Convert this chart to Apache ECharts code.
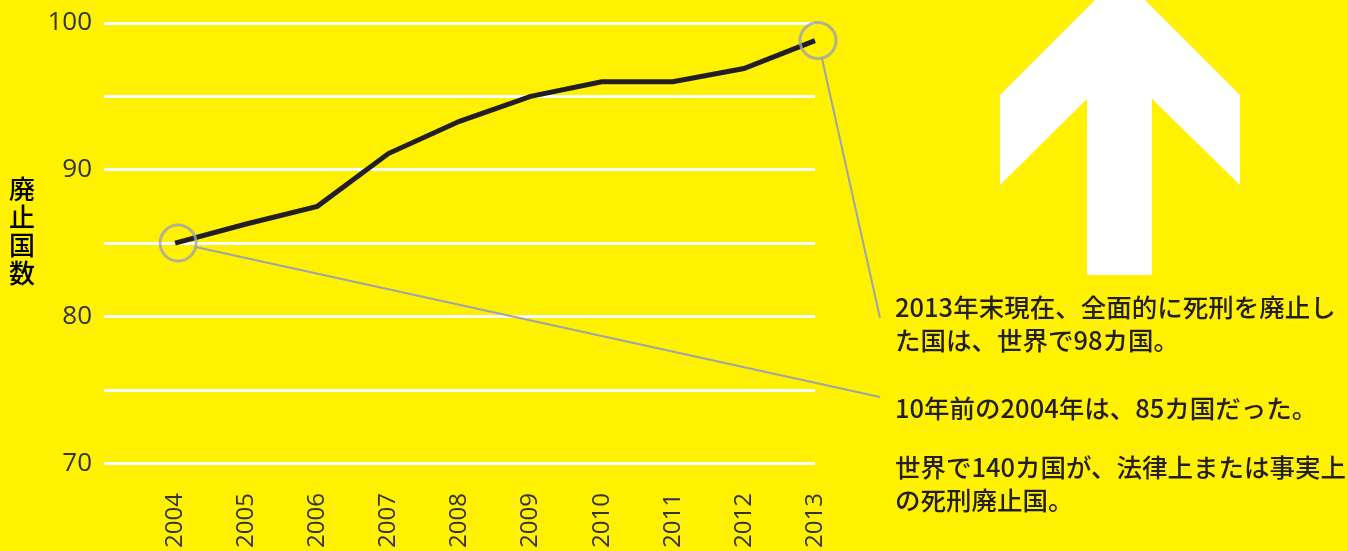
<!DOCTYPE html>
<html>
<head>
<meta charset="utf-8">
<script src="https://cdn.jsdelivr.net/npm/echarts@6/dist/echarts.min.js"></script>
<style>
  html, body { margin: 0; padding: 0; background: #fff100; }
  #chart { width: 1347px; height: 551px; }
</style>
</head>
<body>
<div id="chart"></div>
<script>
// 死刑廃止国数の推移
const years = [2004, 2005, 2006, 2007, 2008, 2009, 2010, 2011, 2012, 2013];
const abolished = [85, 86.3, 87.5, 91.1, 93.3, 95, 96, 96, 96.9, 98.8];
const yTicks = [70, 80, 90, 100];
const yName = "廃止国数";
const notes = [
  "2013年末現在、全面的に死刑を廃止し\nた国は、世界で98カ国。",
  "10年前の2004年は、85カ国だった。",
  "世界で140カ国が、法律上または事実上\nの死刑廃止国。"
];

const ink = "#231f20";
const grey = "#9fa4ad";
const jp = "'Noto Sans CJK JP', 'Noto Sans', sans-serif";

var chart = echarts.init(document.getElementById("chart"));

chart.setOption({
  backgroundColor: "#fff100",
  animation: false,
  grid: { left: 104, right: 532, top: 23, bottom: 87.5 },
  xAxis: {
    type: "value",
    min: 2003,
    max: 2013,
    interval: 1,
    axisLine: { show: false },
    axisTick: { show: false },
    splitLine: { show: false },
    axisLabel: {
      rotate: 90,
      margin: 30,
      fontSize: 24,
      fontFamily: "'Open Sans', sans-serif",
      color: "#333333",
      formatter: v => (years.indexOf(v) >= 0 ? String(v) : "")
    }
  },
  yAxis: {
    type: "value",
    min: 70,
    max: 100,
    interval: 5,
    axisLine: { show: false },
    axisTick: { show: false },
    splitLine: { lineStyle: { color: "#ffffff", width: 3 } },
    axisLabel: {
      margin: 12,
      fontSize: 26,
      fontFamily: "'Open Sans', sans-serif",
      color: "#333333",
      formatter: v => (yTicks.indexOf(v) >= 0 ? String(v) : "")
    }
  },
  series: [
    {
      type: "line",
      data: years.map((y, i) => [y, abolished[i]]),
      symbol: "none",
      lineStyle: { color: ink, width: 5, join: "miter" }
    },
    {
      type: "scatter",
      data: [
        [years[0], abolished[0]],
        [years[years.length - 1], abolished[abolished.length - 1]]
      ],
      symbol: "circle",
      symbolSize: 36,
      symbolOffset: [3, 0],
      itemStyle: { color: "rgba(0,0,0,0)", borderColor: grey, borderWidth: 3 },
      z: 3
    }
  ]
});

// leader lines from the circles to the notes
function leader(pt, end) {
  const cx = pt[0] + 3, cy = pt[1];
  const dx = end[0] - cx, dy = end[1] - cy;
  const len = Math.sqrt(dx * dx + dy * dy);
  return {
    type: "line",
    shape: { x1: cx + dx / len * 18, y1: cy + dy / len * 18, x2: end[0], y2: end[1] },
    style: { stroke: grey, lineWidth: 2 },
    z: 10
  };
}
const pFirst = chart.convertToPixel({ gridIndex: 0 }, [years[0], abolished[0]]);
const pLast = chart.convertToPixel({ gridIndex: 0 },
  [years[years.length - 1], abolished[abolished.length - 1]]);

function note(text, y) {
  return {
    type: "text",
    x: 895,
    y: y,
    style: {
      text: text,
      fill: ink,
      fontSize: 25.5,
      fontWeight: 500,
      fontFamily: jp,
      lineHeight: 33,
      verticalAlign: "top"
    },
    z: 10
  };
}

chart.setOption({
  graphic: [
    {
      type: "polygon",
      shape: {
        points: [
          [1120, -25], [1240, 95], [1240, 185], [1152, 99], [1152, 275],
          [1087, 275], [1087, 99], [1000, 185], [1000, 95]
        ]
      },
      style: { fill: "#ffffff" },
      z: 1
    },
    {
      type: "text",
      x: 22,
      y: 175,
      style: {
        text: yName.split("").join("\n"),
        fill: "#000000",
        fontSize: 26,
        fontWeight: 500,
        fontFamily: jp,
        lineHeight: 28,
        align: "center",
        verticalAlign: "top"
      },
      z: 10
    },
    leader(pLast, [880, 318]),
    leader(pFirst, [880, 397]),
    note(notes[0], 291),
    note(notes[1], 391.5),
    note(notes[2], 451)
  ]
});
</script>
</body>
</html>
